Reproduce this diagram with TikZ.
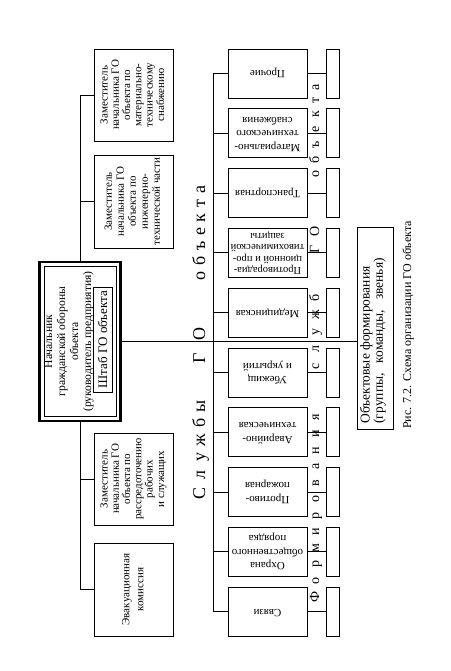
\documentclass[tikz,border=0pt]{standalone}
\usepackage{fontspec}
\setmainfont{Liberation Serif}
\usepackage{graphicx}
\newcommand\rtxt[2]{\rotatebox{#1}{\begin{tabular}{@{}c@{}}#2\end{tabular}}}
\begin{document}
\begin{tikzpicture}[x=1pt,y=-1pt,line width=0.9pt,
  box/.style={draw,inner sep=0pt,outer sep=0pt},
  zam/.style={box,minimum width=79pt,minimum height=92pt,font=\fontsize{11}{11.3}\selectfont},
  svc/.style={box,minimum width=79pt,minimum height=49pt,font=\fontsize{11}{13.5}\selectfont},
  frm/.style={box,minimum width=13pt,minimum height=49pt},
  bigl/.style={rotate=90,anchor=base,inner sep=0pt,font=\fontsize{18}{18}\selectfont},
  medl/.style={rotate=90,anchor=base,inner sep=0pt,font=\fontsize{14}{14}\selectfont}]
\useasboundingbox (0,0) rectangle (450,671);
\fill[white] (0,0) rectangle (450,671);

% deputies
\node[zam] (z1) at (133.5,95) {\rtxt{90}{Заместитель\\начальника ГО\\объекта по\\материально-\\техническому\\снабжению}};
\node[zam,minimum height=93pt,font=\fontsize{11}{12}\selectfont] (z2) at (133.5,201.5) {\rtxt{90}{Заместитель\\начальника ГО\\объекта по\\инженерно-\\технической части}};
\node[zam] (z3) at (133.5,479) {\rtxt{90}{Заместитель\\начальника ГО\\объекта по\\рассредоточению\\рабочих\\и служащих}};
\node[zam,minimum height=93pt,font=\fontsize{11}{14}\selectfont] (z4) at (133.5,589.5) {\rtxt{90}{Эвакуационная\\комиссия}};

% chief
\node[box,line width=2.2pt,minimum width=81pt,minimum height=159pt] (ch) at (80,341.5) {};
\draw ([shift={(4.5,4.5)}]ch.north west) rectangle ([shift={(-4.5,-4.5)}]ch.south east);
\node[inner sep=0pt,font=\fontsize{11.6}{13}\selectfont] (cht) at (69,341.5) {\rtxt{90}{Начальник\\гражданской обороны\\объекта\\(руководитель предприятия)}};
\node[box,minimum width=19pt,minimum height=105pt,font=\fontsize{13}{13}\selectfont] (sh) at (102.5,339.5) {\rotatebox{90}{Штаб ГО объекта}};

% services
\node[svc] (s1) at (267.5,73.5) {\rtxt{180}{Прочие}};
\node[svc] (s2) at (267.5,133.3) {\rtxt{180}{Материально-\\технического\\снабжения}};
\node[svc] (s3) at (267.5,193.1) {\rtxt{180}{Транспортная}};
\node[svc,font=\fontsize{10.5}{11.3}\selectfont] (s4) at (267.5,252.9) {\rtxt{180}{Противорадиа-\\ционной и про-\\тивохимической\\защиты}};
\node[svc] (s5) at (267.5,312.7) {\rtxt{180}{Медицинская}};
\node[svc] (s6) at (267.5,372.5) {\rtxt{180}{Убежищ\\и укрытий}};
\node[svc] (s7) at (267.5,432.3) {\rtxt{180}{Аварийно-\\техническая}};
\node[svc] (s8) at (267.5,492.1) {\rtxt{180}{Противо-\\пожарная}};
\node[svc] (s9) at (267.5,551.9) {\rtxt{180}{Охрана\\общественного\\порядка}};
\node[svc] (s10) at (267.5,611.7) {\rtxt{180}{Связи}};

% formations
\foreach \i/\yy in {1/73.5,2/133.3,3/193.1,4/252.9,5/312.7,6/372.5,7/432.3,8/492.1,9/551.9,10/611.7}
  \node[frm] (f\i) at (332.5,\yy) {};

% object formations
\node[box,minimum width=36pt,minimum height=202pt] (obj) at (375,328) {};
\node[rotate=90,anchor=west,inner sep=0pt,align=left,font=\fontsize{13.5}{11.8}\selectfont] (objt) at (372.8,424) {Объектовые формирования\\(группы,\hspace{10pt}команды,\hspace{10pt}звенья)};

% caption
\node[rotate=90,inner sep=0pt,font=\fontsize{12}{12}\selectfont] (cap) at (408,325) {Рис. 7.2. Схема организации ГО объекта};

% spaced titles
\foreach \c/\p [count=\k] in {С/493,л/475,у/457,ж/440,б/423,ы/406,Г/358,О/334,о/276,б/261,ъ/246,е/232,к/218,т/204,а/190}
  \node[bigl] (sg\k) at (205,\p) {\c};
\foreach \c/\p [count=\k] in {Ф/597,о/580.7,р/564.4,м/548,и/531.8,р/515.5,о/499.2,в/482.9,а/466.6,н/450.3,и/434,я/417.7,с/366,л/349,у/332,ж/315,б/298,Г/249,О/231,о/174,б/160,ъ/145,е/129,к/114,т/100,а/87}
  \node[medl] (fm\k) at (319,\p) {\c};

% connectors
\coordinate (st) at (213,73.5);
\foreach \n in {z1,z2,z3,z4} \draw (\n.west) -- (\n.west -| ch.north);
\draw (z1.west -| ch.north) -- (ch.north);
\draw (ch.south) -- (z4.west -| ch.south);
\draw (s1.west -| st) -- (s10.west -| st);
\foreach \i in {1,...,10} {
  \draw (s\i.west) -- (s\i.west -| st);
  \draw (s\i.east) -- (f\i.west);
}
\draw (ch.east) -- (ch.east -| obj.west);
\end{tikzpicture}
\end{document}
